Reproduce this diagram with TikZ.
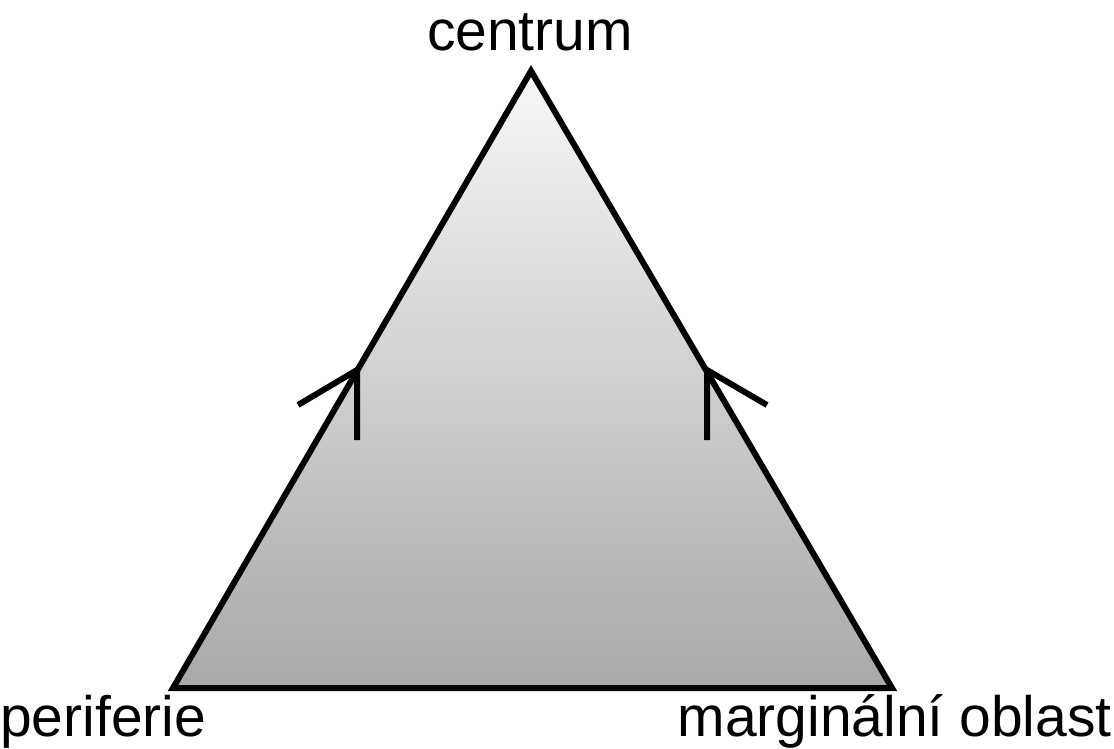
\documentclass[tikz,border=0pt]{standalone}
\usepackage{fontspec}
\setmainfont{Liberation Sans}
\begin{document}
\begin{tikzpicture}[x=1pt,y=-1pt,
  edge/.style={line width=6pt, line join=miter, draw=black},
  flow/.style={line width=6pt, line cap=butt, draw=black},
  lbl/.style={inner sep=0pt, font=\fontsize{57}{60}\selectfont}]
\useasboundingbox (0,0) rectangle (1114,748);
\coordinate (A) at (531,71);
\coordinate (L) at (173,688);
\coordinate (R) at (892,688);
\shade[top color=white!97!black, bottom color=black!34] (A) -- (L) -- (R) -- cycle;
\draw[edge] (A) -- (L) -- (R) -- cycle;
% arrow marks
\coordinate (lt) at (357,370);
\coordinate (l1) at (298,405);
\coordinate (l2) at (357,440);
\coordinate (rt) at (707,370);
\coordinate (r1) at (767,405);
\coordinate (r2) at (707,440);
\draw[flow] (l1) -- (lt) -- (l2);
\draw[flow] (r1) -- (rt) -- (r2);
\node[lbl, anchor=base] (c) at (530,50) {centrum};
\node[lbl, anchor=base west] (p) at (0,736) {periferie};
\node[lbl, anchor=base east] (m) at (1112,736) {marginální oblast};
\end{tikzpicture}
\end{document}
